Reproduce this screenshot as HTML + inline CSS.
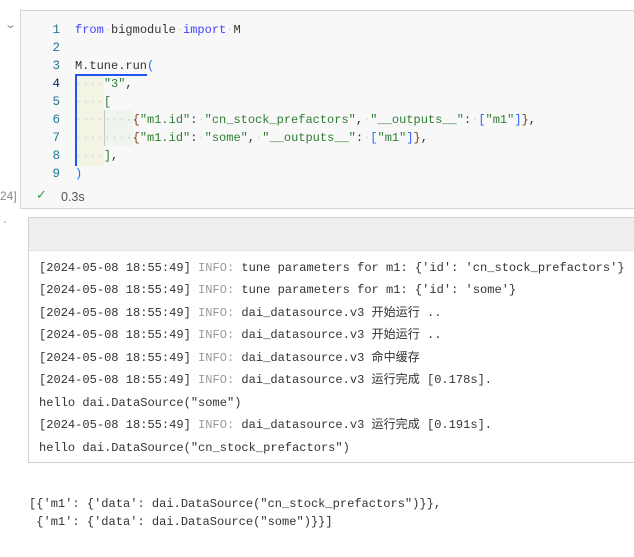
<!DOCTYPE html>
<html><head><meta charset="utf-8"><style>
body{margin:0;width:634px;height:557px;background:#fff;position:relative;overflow:hidden;font-family:"Liberation Mono","Noto Sans CJK SC",monospace;font-size:12px;}
.a{position:absolute;white-space:pre;}
.code{position:absolute;left:20px;top:10px;width:640px;height:197px;background:#f8f8f8;border:1px solid #d6d6d6;}
.ln{position:absolute;left:40px;width:20px;text-align:right;color:#237893;font-size:12.5px;line-height:16px;}
.cl{position:absolute;left:75px;white-space:pre;color:#333;font-size:12px;line-height:16px;}
.k{color:#0000ff;opacity:.75}
.s{color:#2e7d32}
.b{color:#2962ff}
.br{color:#7a3e16}
.d{color:#d4d4d4}
.out{position:absolute;left:28px;top:217px;width:640px;height:244px;border:1px solid #d0d0d0;background:#fff;}
.hdr{position:absolute;left:0;top:0;right:0;height:32px;background:#efeff1;border-bottom:1px solid #e4e4e4;}
.log{position:absolute;left:39px;white-space:pre;color:#333;font-size:12.05px;line-height:16px;height:16px;}
.g{color:#9a9a9a}
</style></head><body>
<div class="a" style="left:6px;top:18px;color:#888;font-family:'Liberation Sans',sans-serif;font-size:11px;transform:scaleX(1.4)">⌄</div>
<div class="code"></div>
<div style="position:absolute;left:75px;top:74px;width:29px;height:92px;background:#f4f4e4"></div>
<div style="position:absolute;left:104px;top:110px;width:29px;height:36px;background:#eef4ee"></div>
<div style="position:absolute;left:104px;top:110px;width:1px;height:36px;background:#c8c8c8"></div>
<div style="position:absolute;left:75px;top:74px;width:72px;height:1.5px;background:#2255ee"></div>
<div style="position:absolute;left:75px;top:74px;width:1.5px;height:92px;background:#2255ee"></div>
<div class="ln" style="top:22px">1</div>
<div class="ln" style="top:40px">2</div>
<div class="ln" style="top:58px">3</div>
<div class="ln" style="top:76px;color:#0b216f">4</div>
<div class="ln" style="top:94px">5</div>
<div class="ln" style="top:112px">6</div>
<div class="ln" style="top:130px">7</div>
<div class="ln" style="top:148px">8</div>
<div class="ln" style="top:166px">9</div>
<div class="cl" style="top:22px"><span class="k">from</span><span class="d">·</span>bigmodule<span class="d">·</span><span class="k">import</span><span class="d">·</span>M</div>
<div class="cl" style="top:58px">M.tune.run<span class="b">(</span></div>
<div class="cl" style="top:76px"><span class="d">····</span><span class="s">"3"</span>,</div>
<div class="cl" style="top:94px"><span class="d">····</span><span class="s">[</span></div>
<div class="cl" style="top:112px"><span class="d">········</span><span class="br">{</span><span class="s">"m1.id"</span>:<span class="d">·</span><span class="s">"cn_stock_prefactors"</span>,<span class="d">·</span><span class="s">"__outputs__"</span>:<span class="d">·</span><span class="b">[</span><span class="s">"m1"</span><span class="b">]</span><span class="br">}</span>,</div>
<div class="cl" style="top:130px"><span class="d">········</span><span class="br">{</span><span class="s">"m1.id"</span>:<span class="d">·</span><span class="s">"some"</span>,<span class="d">·</span><span class="s">"__outputs__"</span>:<span class="d">·</span><span class="b">[</span><span class="s">"m1"</span><span class="b">]</span><span class="br">}</span>,</div>
<div class="cl" style="top:148px"><span class="d">····</span><span class="s">]</span>,</div>
<div class="cl" style="top:166px"><span class="b">)</span></div>
<div class="a" style="left:0;top:189px;color:#888;font-family:'Liberation Sans',sans-serif;font-size:12px">24]</div>
<div class="a" style="left:36px;top:188px;color:#2e9d4a;font-family:'DejaVu Sans',sans-serif;font-size:13px">✓</div>
<div class="a" style="left:61px;top:190px;color:#555;font-family:'Liberation Sans',sans-serif;font-size:12.5px">0.3s</div>
<div class="a" style="left:2px;top:216px;color:#888;font-size:10px">.</div>
<div class="out"><div class="hdr"></div></div>
<div class="log" style="top:260px">[2024-05-08 18:55:49] <span class="g">INFO:</span> tune parameters for m1: {'id': 'cn_stock_prefactors'}</div>
<div class="log" style="top:282px">[2024-05-08 18:55:49] <span class="g">INFO:</span> tune parameters for m1: {'id': 'some'}</div>
<div class="log" style="top:305px">[2024-05-08 18:55:49] <span class="g">INFO:</span> dai_datasource.v3 开始运行 ..</div>
<div class="log" style="top:327px">[2024-05-08 18:55:49] <span class="g">INFO:</span> dai_datasource.v3 开始运行 ..</div>
<div class="log" style="top:350px">[2024-05-08 18:55:49] <span class="g">INFO:</span> dai_datasource.v3 命中缓存</div>
<div class="log" style="top:372px">[2024-05-08 18:55:49] <span class="g">INFO:</span> dai_datasource.v3 运行完成 [0.178s].</div>
<div class="log" style="top:395px">hello dai.DataSource("some")</div>
<div class="log" style="top:417px">[2024-05-08 18:55:49] <span class="g">INFO:</span> dai_datasource.v3 运行完成 [0.191s].</div>
<div class="log" style="top:440px">hello dai.DataSource("cn_stock_prefactors")</div>
<div class="log" style="left:29px;top:496px">[{'m1': {'data': dai.DataSource("cn_stock_prefactors")}},</div>
<div class="log" style="left:29px;top:514px"> {'m1': {'data': dai.DataSource("some")}}]</div>
</body></html>
